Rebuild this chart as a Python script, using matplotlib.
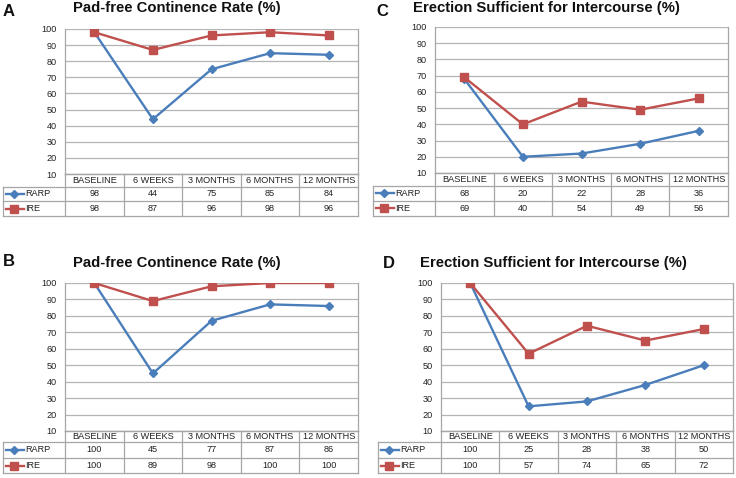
import numpy as np
import matplotlib
matplotlib.use("Agg")
import matplotlib.pyplot as plt

plt.rcParams['font.family'] = ['Liberation Sans', 'DejaVu Sans']

# data
timepoints = ["BASELINE", "6 WEEKS", "3 MONTHS", "6 MONTHS", "12 MONTHS"]
series_names = ["RARP", "IRE"]

cont_a_rarp = [98, 44, 75, 85, 84]
cont_a_ire = [98, 87, 96, 98, 96]
erec_c_rarp = [68, 20, 22, 28, 36]
erec_c_ire = [69, 40, 54, 49, 56]
cont_b_rarp = [100, 45, 77, 87, 86]
cont_b_ire = [100, 89, 98, 100, 100]
erec_d_rarp = [100, 25, 28, 38, 50]
erec_d_ire = [100, 57, 74, 65, 72]

title_cont = "Pad-free Continence Rate (%)"
title_erec = "Erection Sufficient for Intercourse (%)"

W, H = 736, 478
BLUE = "#4a7ebb"
RED = "#c0504d"
GRID = "#b4b4b4"
TLINE = "#a6a6a6"


def panel(fig, letter, title, rarp, ire, px, title_xy, letter_xy):
    # px: plot left, right, top, bottom, table left, table row bottoms (header, r1, r2)
    left, right, top, bottom, tleft, rows = px
    ax = fig.add_axes([left / W, 1 - bottom / H, (right - left) / W, (bottom - top) / H])
    x = np.arange(len(timepoints))
    ax.plot(x, rarp, color=BLUE, lw=1.7, marker="D", ms=4, zorder=3)
    ax.plot(x, ire, color=RED, lw=1.7, marker="s", ms=5.8, zorder=3)
    ax.set_xlim(-0.5, len(timepoints) - 0.5)
    ax.set_ylim(10, 100)
    ax.set_yticks(range(10, 101, 10))
    ax.set_xticks([])
    ax.yaxis.grid(True, color=GRID, lw=0.9)
    ax.set_axisbelow(True)
    ax.tick_params(axis="y", length=0, labelsize=6.6, pad=6, colors="#222222")
    for s in ax.spines.values():
        s.set_color(TLINE)
        s.set_linewidth(0.9)
    ax.spines["top"].set_visible(False)

    def ax_x(p):
        return (p - left) / (right - left)

    def ax_y(p):
        return (bottom - p) / (bottom - top)

    kw = dict(transform=ax.transAxes, clip_on=False, color=TLINE, lw=0.9)
    ncol = len(timepoints)
    # table grid
    ax.plot([0, 1], [0, 0], **kw)
    for r in rows:
        ax.plot([ax_x(tleft), 1], [ax_y(r), ax_y(r)], **kw)
    for i in range(ncol + 1):
        xx = i / ncol
        ax.plot([xx, xx], [0, ax_y(rows[-1])], **kw)
    ax.plot([ax_x(tleft)] * 2, [ax_y(rows[0]), ax_y(rows[-1])], **kw)

    # header text
    yh = ax_y((bottom + rows[0]) / 2)
    for i, lab in enumerate(timepoints):
        ax.text((i + 0.5) / ncol, yh, lab, transform=ax.transAxes, ha="center",
                va="center", fontsize=6.6, color="#222222")
    # data rows with legend keys
    for k, (name, vals, col, mk, ms) in enumerate(
            [(series_names[0], rarp, BLUE, "D", 3.6), (series_names[1], ire, RED, "s", 5.2)]):
        yc = ax_y((rows[k] + rows[k + 1]) / 2)
        ax.plot([ax_x(tleft + 3), ax_x(tleft + 21)], [yc, yc], transform=ax.transAxes,
                clip_on=False, color=col, lw=1.7)
        ax.plot([ax_x(tleft + 11)], [yc], transform=ax.transAxes, clip_on=False,
                color=col, marker=mk, ms=ms)
        ax.text(ax_x(tleft + 22), yc, name, transform=ax.transAxes, ha="left",
                va="center", fontsize=6.6, color="#222222")
        for i, v in enumerate(vals):
            ax.text((i + 0.5) / ncol, yc, str(v), transform=ax.transAxes, ha="center",
                    va="center", fontsize=6.6, color="#222222")

    fig.text(title_xy[0] / W, 1 - title_xy[1] / H, title, ha="center", va="center",
             fontsize=10.7, fontweight="bold", color="#111111")
    fig.text(letter_xy[0] / W, 1 - letter_xy[1] / H, letter, ha="left", va="center",
             fontsize=12, fontweight="bold", color="#111111")
    return ax


fig = plt.figure(figsize=(W / 100, H / 100), dpi=100)
fig.patch.set_facecolor("white")

panel(fig, "A", title_cont, cont_a_rarp, cont_a_ire,
      (65, 358, 29, 174, 3, (187, 201, 216)), (177, 8), (3, 12))
panel(fig, "C", title_erec, erec_c_rarp, erec_c_ire,
      (435, 728, 27, 173, 373, (186, 201, 216)), (546, 8), (376, 12))
panel(fig, "B", title_cont, cont_b_rarp, cont_b_ire,
      (65, 358, 283, 431, 3, (442, 458, 473)), (177, 263), (3, 262))
panel(fig, "D", title_erec, erec_d_rarp, erec_d_ire,
      (441, 733, 283, 431, 378, (442, 458, 473)), (553, 263), (383, 263))

fig.savefig("out.png", dpi=100)
